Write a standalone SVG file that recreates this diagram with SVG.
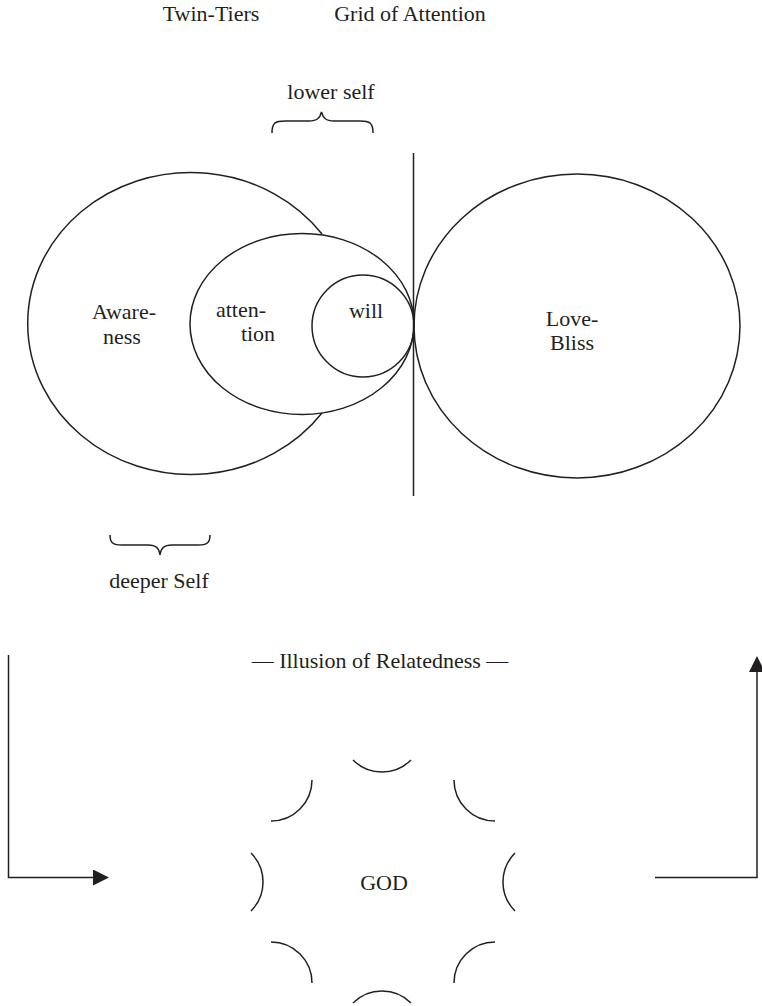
<svg xmlns="http://www.w3.org/2000/svg" width="762" height="1006" viewBox="0 0 762 1006">
<style>
  .ln{fill:none;stroke:#231f20;stroke-width:1.5}
  .t{font-family:'Liberation Serif','Times New Roman',Times,serif;font-size:22px;fill:#231f20;text-anchor:middle}
</style>
<defs>
  <marker id="arr" viewBox="0 0 16 16" refX="0" refY="8" markerWidth="16" markerHeight="16" markerUnits="userSpaceOnUse" orient="auto">
    <path d="M0,0 L16,8 L0,16 Z" fill="#231f20"/>
  </marker>
</defs>
<rect width="762" height="1006" fill="#fff"/>
<g id="titles">
  <text class="t" x="211" y="21" font-family="Liberation Serif, serif">Twin-Tiers</text>
  <text class="t" x="410" y="21" font-family="Liberation Serif, serif">Grid of Attention</text>
</g>
<g id="lower-self">
  <text class="t" x="331" y="99" font-family="Liberation Serif, serif">lower self</text>
  <path class="ln" d="M272,133 C272,123 275,121 285,121 L309,121 C317,121 320,118 321.5,112 C323,118 326,121 334,121 L360,121 C370,121 373,123 373,133"/>
</g>
<g id="awareness">
  <path class="ln" d="M322,234 A163,151 0 1 0 322,413"/>
  <text class="t" x="124" y="319" font-family="Liberation Serif, serif">Aware-</text>
  <text class="t" x="122" y="344" font-family="Liberation Serif, serif">ness</text>
</g>
<g id="attention">
  <ellipse class="ln" cx="302" cy="324" rx="112" ry="90.5"/>
  <text class="t" x="241" y="317" font-family="Liberation Serif, serif">atten-</text>
  <text class="t" x="258" y="341" font-family="Liberation Serif, serif">tion</text>
</g>
<g id="will">
  <circle class="ln" cx="363" cy="326" r="51"/>
  <text class="t" x="366" y="318" font-family="Liberation Serif, serif">will</text>
</g>
<g id="divider">
  <line class="ln" x1="413.5" y1="153" x2="413.5" y2="496"/>
</g>
<g id="love-bliss">
  <ellipse class="ln" cx="577" cy="326" rx="163" ry="152"/>
  <text class="t" x="572" y="326" font-family="Liberation Serif, serif">Love-</text>
  <text class="t" x="572" y="350" font-family="Liberation Serif, serif">Bliss</text>
</g>
<g id="deeper-self">
  <path class="ln" d="M110,535 C110,543 113,545 122,545 L148,545 C156,545 159,548 160,555 C161,548 164,545 172,545 L198,545 C207,545 210,543 210,535"/>
  <text class="t" x="159" y="588" font-family="Liberation Serif, serif">deeper Self</text>
</g>
<g id="illusion">
  <text class="t" x="380" y="668" font-family="Liberation Serif, serif">— Illusion of Relatedness —</text>
</g>
<g id="god">
  <text class="t" x="384" y="890" font-family="Liberation Serif, serif">GOD</text>
  <g class="arcs">
    <path class="ln" d="M353,760 A41,41 0 0 0 411,760"/>
    <path class="ln" d="M353,1003 A41,41 0 0 1 411,1003"/>
    <path class="ln" d="M251,853 A41,41 0 0 1 251,911"/>
    <path class="ln" d="M515,853 A41,41 0 0 0 515,911"/>
    <path class="ln" d="M312,780 A41,41 0 0 1 271,821"/>
    <path class="ln" d="M454,780 A41,41 0 0 0 495,821"/>
    <path class="ln" d="M271,942 A41,41 0 0 1 312,983"/>
    <path class="ln" d="M495,942 A41,41 0 0 0 454,983"/>
  </g>
</g>
<g id="connectors">
  <path class="ln" d="M8.5,655 V877.5 H93" marker-end="url(#arr)"/>
  <path class="ln" d="M655,877.5 H757 V672" marker-end="url(#arr)"/>
</g>
</svg>
